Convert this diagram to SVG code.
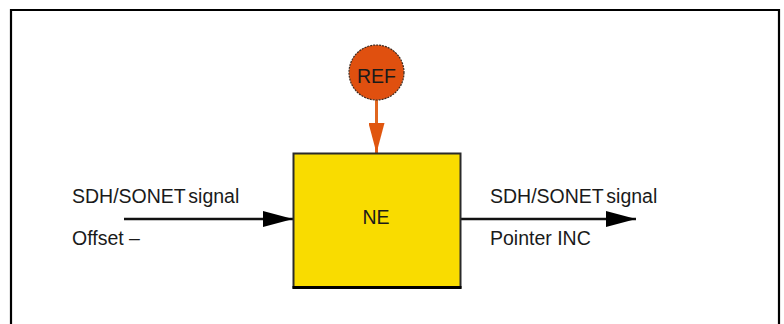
<svg xmlns="http://www.w3.org/2000/svg" width="784" height="324" viewBox="0 0 784 324">
<style>
text{font-family:"Liberation Sans",Arial,Helvetica,sans-serif;font-size:19.5px;fill:#1a1a1a}
.lbl{word-spacing:-2.5px}
.conn{stroke:#111;stroke-width:2.5;fill:none}
</style>
<defs>
<marker id="ah" markerUnits="userSpaceOnUse" markerWidth="30" markerHeight="16" refX="30" refY="8" orient="auto">
<path d="M0,0 L30,8 L0,16 Z" fill="#000"/>
</marker>
<marker id="ahr" markerUnits="userSpaceOnUse" markerWidth="30" markerHeight="16" refX="30" refY="8" orient="auto">
<path d="M0,0 L30,8 L0,16 Z" fill="#E0560F"/>
</marker>
</defs>
<rect width="784" height="324" fill="#fff"/>
<path d="M11,326 L11,10 L779,10 L779,326" fill="none" stroke="#000" stroke-width="2.2"/>
<g id="connectors">
<line class="conn" x1="124" y1="219" x2="293" y2="219" marker-end="url(#ah)"/>
<line class="conn" x1="461" y1="219" x2="636" y2="219" marker-end="url(#ah)"/>
<line x1="376.5" y1="100" x2="376.5" y2="153" stroke="#E0661F" stroke-width="3" marker-end="url(#ahr)"/>
</g>
<g id="NE">
<rect x="293.5" y="153.5" width="167" height="134" fill="#F9DC00" stroke="#2a2a2a" stroke-width="2"/>
<line x1="292.5" y1="287.5" x2="461.5" y2="287.5" stroke="#000" stroke-width="3"/>
<text x="376" y="224" text-anchor="middle">NE</text>
</g>
<g id="REF">
<circle cx="376.5" cy="72.5" r="27.5" fill="#E0500F" stroke="#3a2a20" stroke-width="1.2" stroke-dasharray="2 1"/>
<text x="376.5" y="83" text-anchor="middle">REF</text>
</g>
<g id="labels">
<text class="lbl" x="72" y="203">SDH/SONET signal</text>
<text x="72" y="245">Offset –</text>
<text class="lbl" x="490" y="203">SDH/SONET signal</text>
<text x="490" y="245">Pointer INC</text>
</g>
</svg>
